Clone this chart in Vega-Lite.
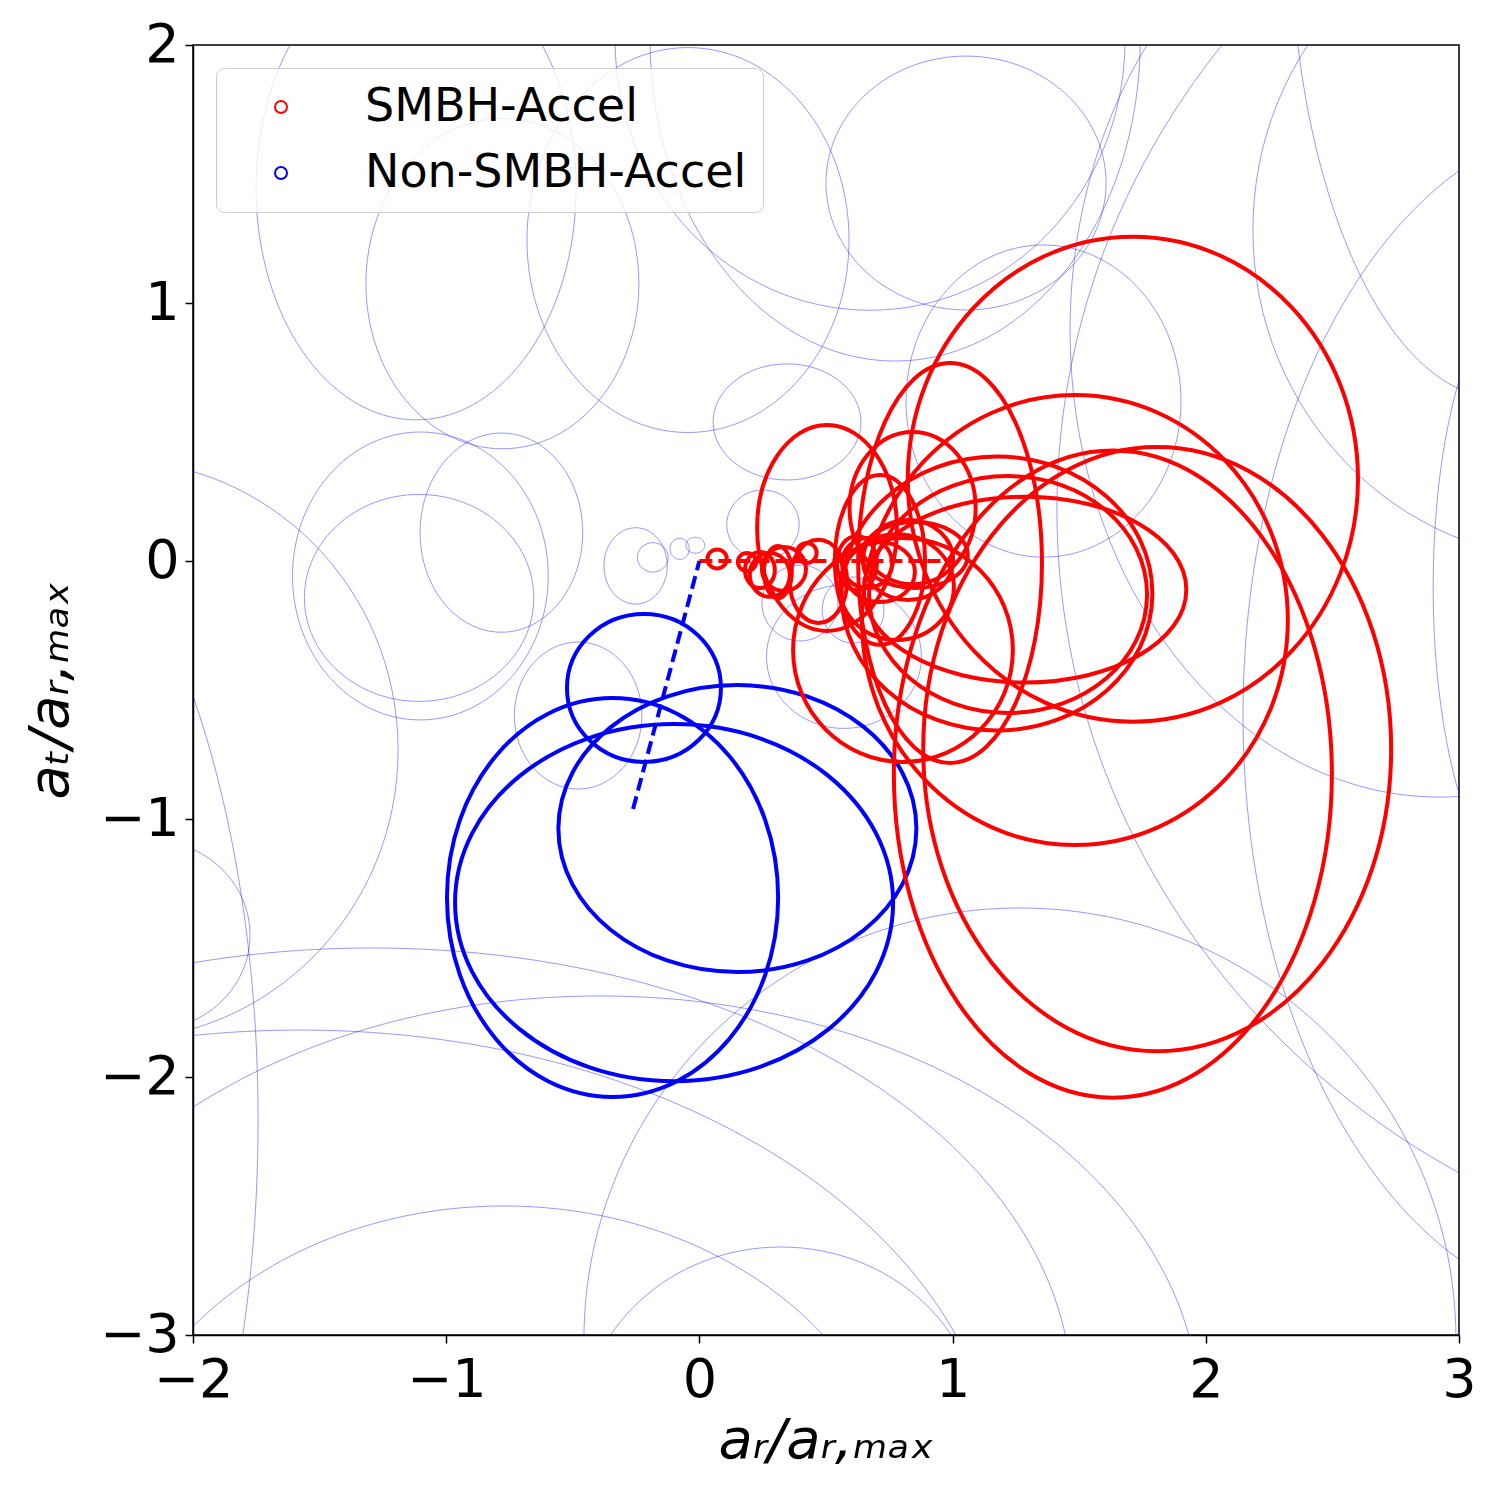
{
  "$schema": "https://vega.github.io/schema/vega-lite/v6.json",
  "width": 1266,
  "height": 1290,
  "autosize": {"type": "none"},
  "padding": {"left": 193, "top": 45, "right": 41, "bottom": 165},
  "background": "white",
  "config": {
    "view": {"stroke": "black", "strokeWidth": 1.5},
    "axis": {
      "domainColor": "black", "domainWidth": 1.5,
      "tickColor": "black", "tickWidth": 1.5, "tickSize": 8,
      "labelFont": "DejaVu Sans", "labelFontSize": 54, "labelColor": "black",
      "labelFlush": false, "labelOverlap": false,
      "grid": false,
      "titleFont": "DejaVu Sans", "titleFontSize": 56, "titleFontStyle": "italic",
      "titleFontWeight": "normal", "titleColor": "black"
    }
  },
  "datasets": {
    "faint": [
      {"x": -1.119, "y": 1.446, "rx": 0.632, "ry": 0.899},
      {"x": -0.778, "y": 1.075, "rx": 0.539, "ry": 0.640},
      {"x": -0.045, "y": 1.244, "rx": 0.636, "ry": 0.746},
      {"x": 1.053, "y": 1.465, "rx": 0.553, "ry": 0.492},
      {"x": 0.773, "y": 2.019, "rx": 0.968, "ry": 1.244},
      {"x": 0.674, "y": 2.019, "rx": 1.007, "ry": 1.047},
      {"x": 1.359, "y": 0.620, "rx": 0.543, "ry": 0.605},
      {"x": 0.346, "y": 0.539, "rx": 0.292, "ry": 0.225},
      {"x": 0.251, "y": 0.141, "rx": 0.143, "ry": 0.134},
      {"x": -0.252, "y": -0.019, "rx": 0.125, "ry": 0.148},
      {"x": -0.184, "y": 0.014, "rx": 0.061, "ry": 0.057},
      {"x": -0.078, "y": 0.047, "rx": 0.038, "ry": 0.041},
      {"x": -0.016, "y": 0.061, "rx": 0.037, "ry": 0.031},
      {"x": -0.782, "y": 0.110, "rx": 0.321, "ry": 0.386},
      {"x": -1.102, "y": -0.058, "rx": 0.505, "ry": 0.558},
      {"x": -1.107, "y": -0.143, "rx": 0.453, "ry": 0.401},
      {"x": -0.479, "y": -0.599, "rx": 0.252, "ry": 0.285},
      {"x": 0.571, "y": -0.371, "rx": 0.306, "ry": 0.278},
      {"x": 0.607, "y": -0.190, "rx": 0.122, "ry": 0.128},
      {"x": 0.397, "y": -0.163, "rx": 0.150, "ry": 0.147},
      {"x": -2.312, "y": -0.733, "rx": 1.122, "ry": 1.124},
      {"x": -2.170, "y": -1.450, "rx": 0.395, "ry": 0.368},
      {"x": -2.999, "y": -2.167, "rx": 1.256, "ry": 2.713},
      {"x": 3.162, "y": 2.504, "rx": 0.829, "ry": 1.872},
      {"x": 3.450, "y": 1.283, "rx": 1.264, "ry": 1.279},
      {"x": 3.557, "y": -0.597, "rx": 1.410, "ry": 2.295},
      {"x": 3.293, "y": -0.101, "rx": 0.395, "ry": 1.194},
      {"x": 2.925, "y": 0.895, "rx": 1.461, "ry": 1.810},
      {"x": 4.572, "y": 0.198, "rx": 3.160, "ry": 2.961},
      {"x": 1.266, "y": -3.019, "rx": 1.722, "ry": 1.674},
      {"x": -0.393, "y": -3.314, "rx": 2.370, "ry": 1.628},
      {"x": -1.293, "y": -3.244, "rx": 2.765, "ry": 1.744},
      {"x": -0.772, "y": -3.760, "rx": 1.580, "ry": 1.260},
      {"x": 0.322, "y": -3.376, "rx": 0.790, "ry": 0.717},
      {"x": -1.577, "y": -3.640, "rx": 2.765, "ry": 1.822}
    ],
    "bold": [
      {"g": "Non-SMBH-Accel", "x": -0.219, "y": -0.492, "rx": 0.304, "ry": 0.287},
      {"g": "Non-SMBH-Accel", "x": -0.343, "y": -1.304, "rx": 0.654, "ry": 0.773},
      {"g": "Non-SMBH-Accel", "x": -0.100, "y": -1.324, "rx": 0.865, "ry": 0.692},
      {"g": "Non-SMBH-Accel", "x": 0.150, "y": -1.037, "rx": 0.707, "ry": 0.556},
      {"g": "SMBH-Accel", "x": 0.070, "y": 0.008, "rx": 0.038, "ry": 0.037},
      {"g": "SMBH-Accel", "x": 0.188, "y": -0.004, "rx": 0.036, "ry": 0.035},
      {"g": "SMBH-Accel", "x": 0.239, "y": -0.035, "rx": 0.059, "ry": 0.070},
      {"g": "SMBH-Accel", "x": 0.278, "y": -0.054, "rx": 0.079, "ry": 0.085},
      {"g": "SMBH-Accel", "x": 0.310, "y": -0.043, "rx": 0.055, "ry": 0.101},
      {"g": "SMBH-Accel", "x": 0.334, "y": -0.031, "rx": 0.087, "ry": 0.085},
      {"g": "SMBH-Accel", "x": 0.424, "y": 0.031, "rx": 0.039, "ry": 0.039},
      {"g": "SMBH-Accel", "x": 0.470, "y": -0.079, "rx": 0.113, "ry": 0.161},
      {"g": "SMBH-Accel", "x": 0.622, "y": -0.008, "rx": 0.079, "ry": 0.105},
      {"g": "SMBH-Accel", "x": 0.662, "y": -0.008, "rx": 0.099, "ry": 0.097},
      {"g": "SMBH-Accel", "x": 0.713, "y": -0.043, "rx": 0.138, "ry": 0.116},
      {"g": "SMBH-Accel", "x": 0.780, "y": -0.101, "rx": 0.225, "ry": 0.205},
      {"g": "SMBH-Accel", "x": 0.824, "y": 0.004, "rx": 0.178, "ry": 0.155},
      {"g": "SMBH-Accel", "x": 0.851, "y": 0.023, "rx": 0.209, "ry": 0.128},
      {"g": "SMBH-Accel", "x": 0.842, "y": 0.205, "rx": 0.249, "ry": 0.295},
      {"g": "SMBH-Accel", "x": 0.504, "y": 0.128, "rx": 0.276, "ry": 0.399},
      {"g": "SMBH-Accel", "x": 0.990, "y": -0.008, "rx": 0.363, "ry": 0.775},
      {"g": "SMBH-Accel", "x": 0.804, "y": -0.345, "rx": 0.434, "ry": 0.434},
      {"g": "SMBH-Accel", "x": 0.713, "y": 0.004, "rx": 0.178, "ry": 0.329},
      {"g": "SMBH-Accel", "x": 1.175, "y": -0.126, "rx": 0.614, "ry": 0.531},
      {"g": "SMBH-Accel", "x": 1.219, "y": -0.130, "rx": 0.549, "ry": 0.459},
      {"g": "SMBH-Accel", "x": 1.286, "y": -0.111, "rx": 0.637, "ry": 0.360},
      {"g": "SMBH-Accel", "x": 1.712, "y": 0.317, "rx": 0.889, "ry": 0.940},
      {"g": "SMBH-Accel", "x": 1.483, "y": -0.229, "rx": 0.841, "ry": 0.872},
      {"g": "SMBH-Accel", "x": 1.808, "y": -0.729, "rx": 0.924, "ry": 1.171},
      {"g": "SMBH-Accel", "x": 1.633, "y": -0.826, "rx": 0.865, "ry": 1.254}
    ],
    "lines": [
      {"g": "SMBH-Accel", "x": 0, "y": 0},
      {"g": "SMBH-Accel", "x": 1.0, "y": 0},
      {"g": "Non-SMBH-Accel", "x": 0, "y": 0},
      {"g": "Non-SMBH-Accel", "x": -0.262, "y": -0.961}
    ]
  },
  "layer": [
    {
      "data": {"name": "faint"},
      "transform": [
        {"calculate": "datum.ry / datum.rx * 1.019", "as": "k"},
        {"calculate": "'M1,0C1,' + (0.5523*datum.k) + ' 0.5523,' + datum.k + ' 0,' + datum.k + 'C-0.5523,' + datum.k + ' -1,' + (0.5523*datum.k) + ' -1,0C-1,' + (-0.5523*datum.k) + ' -0.5523,' + (-datum.k) + ' 0,' + (-datum.k) + 'C0.5523,' + (-datum.k) + ' 1,' + (-0.5523*datum.k) + ' 1,0Z'", "as": "path"}
      ],
      "mark": {"type": "point", "filled": false, "clip": true, "color": "blue", "strokeWidth": 0.8, "opacity": 0.5},
      "encoding": {
        "x": {"field": "x", "type": "quantitative", "scale": {"domain": [-2, 3], "nice": false, "zero": false}, "axis": {"values": [-2, -1, 0, 1, 2, 3], "format": "d", "labelPadding": 10, "titlePadding": 6, "title": "aᵣ/aᵣ,ₘₐₓ"}},
        "y": {"field": "y", "type": "quantitative", "scale": {"domain": [-3, 2], "nice": false, "zero": false}, "axis": {"values": [-3, -2, -1, 0, 1, 2], "format": "d", "labelPadding": 6, "titlePadding": 20, "title": "aₜ/aᵣ,ₘₐₓ"}},
        "size": {"field": "rx", "type": "quantitative", "scale": {"type": "pow", "exponent": 2, "domain": [0, 1], "range": [0, 256446]}, "legend": null},
        "shape": {"field": "path", "type": "nominal", "scale": null, "legend": null}
      }
    },
    {
      "data": {"name": "bold"},
      "transform": [
        {"calculate": "datum.ry / datum.rx * 1.019", "as": "k"},
        {"calculate": "'M1,0C1,' + (0.5523*datum.k) + ' 0.5523,' + datum.k + ' 0,' + datum.k + 'C-0.5523,' + datum.k + ' -1,' + (0.5523*datum.k) + ' -1,0C-1,' + (-0.5523*datum.k) + ' -0.5523,' + (-datum.k) + ' 0,' + (-datum.k) + 'C0.5523,' + (-datum.k) + ' 1,' + (-0.5523*datum.k) + ' 1,0Z'", "as": "path"}
      ],
      "mark": {"type": "point", "filled": false, "clip": true, "strokeWidth": 4, "opacity": 1},
      "encoding": {
        "x": {"field": "x", "type": "quantitative"},
        "y": {"field": "y", "type": "quantitative"},
        "size": {"field": "rx", "type": "quantitative", "scale": {"type": "pow", "exponent": 2, "domain": [0, 1], "range": [0, 256446]}, "legend": null},
        "shape": {"field": "path", "type": "nominal", "scale": null, "legend": null},
        "color": {
          "field": "g", "type": "nominal",
          "scale": {"domain": ["SMBH-Accel", "Non-SMBH-Accel"], "range": ["red", "blue"]},
          "legend": {
            "title": null, "orient": "top-left", "offset": 23, "padding": 16,
            "symbolType": "circle", "symbolSize": 144, "symbolStrokeWidth": 2,
            "symbolFillColor": "transparent", "symbolOffset": 26, "labelOffset": 61,
            "labelFont": "DejaVu Sans", "labelFontSize": 46, "labelColor": "black", "labelLimit": 1000,
            "rowPadding": 20, "strokeColor": "#cccccc", "fillColor": "rgba(255,255,255,0.8)", "cornerRadius": 8
          }
        }
      }
    },
    {
      "data": {"name": "lines"},
      "mark": {"type": "line", "strokeWidth": 4, "strokeDash": [13, 6], "clip": true},
      "encoding": {
        "x": {"field": "x", "type": "quantitative"},
        "y": {"field": "y", "type": "quantitative"},
        "detail": {"field": "g"},
        "color": {"field": "g", "type": "nominal", "legend": null}
      }
    }
  ]
}
